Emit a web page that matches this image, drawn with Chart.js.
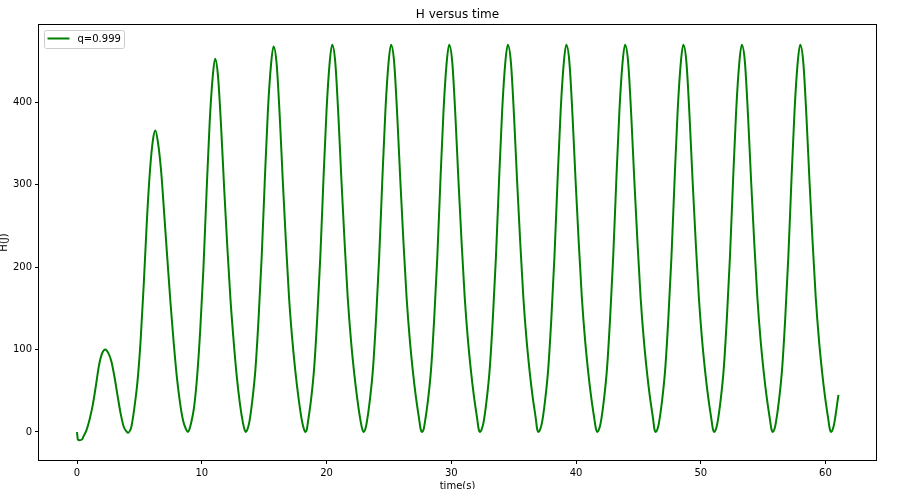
<!DOCTYPE html>
<html lang="en">
<head>
  <meta charset="UTF-8" />
  <title>H versus time</title>
  <script src="https://cdn.jsdelivr.net/npm/chart.js"></script>
  <style>
    html, body { margin: 0; padding: 0; background: #fff; }
    canvas { display: block; }
  </style>
</head>
<body>
  <canvas id="hChart" width="904" height="489"></canvas>

  <script>
    const chartTitle = "H versus time";
    const seriesLabel = "q=0.999";
    const xTicks = [0, 10, 20, 30, 40, 50, 60];
    const yTicks = [0, 100, 200, 300, 400];

    // time (s)
    const timeS = [
      0, 0.06, 0.2, 0.4, 0.5, 0.75, 1.0, 1.25, 1.5, 1.75, 2.0, 2.27, 2.5, 2.75, 3.0, 3.25, 3.5, 3.75, 3.95, 4.1,
      4.25, 4.35, 4.6, 4.85, 5.1, 5.35, 5.6, 5.85, 6.1, 6.28,
      6.5, 6.75, 7.0, 7.25, 7.5, 7.75, 8.0, 8.25, 8.5, 8.72, 8.88,
      9.0, 9.13, 9.38, 9.63, 9.88, 10.13, 10.38, 10.63, 10.88, 11.07,
      11.3, 11.55, 11.8, 12.05, 12.3, 12.55, 12.8, 13.05, 13.3, 13.41, 13.53,
      13.65, 13.80, 14.05, 14.30, 14.55, 14.80, 15.05, 15.30, 15.55, 15.75, 16.00, 16.25, 16.50, 16.75, 17.00, 17.25, 17.50, 17.75, 18.00, 18.18, 18.30,
      18.42, 18.50, 18.75, 19.00, 19.25, 19.50, 19.75, 20.00, 20.25, 20.45, 20.70, 20.95, 21.20, 21.45, 21.70, 21.95, 22.20, 22.45, 22.70, 22.86, 22.98,
      23.10, 23.22, 23.47, 23.72, 23.97, 24.22, 24.47, 24.72, 24.97, 25.17, 25.42, 25.67, 25.92, 26.17, 26.42, 26.67, 26.92, 27.17, 27.42, 27.54, 27.66,
      27.78, 27.88, 28.13, 28.38, 28.63, 28.88, 29.13, 29.38, 29.63, 29.83, 30.08, 30.33, 30.58, 30.83, 31.08, 31.33, 31.58, 31.83, 32.08, 32.19, 32.31,
      32.43, 32.58, 32.83, 33.08, 33.33, 33.58, 33.83, 34.08, 34.33, 34.53, 34.78, 35.03, 35.28, 35.53, 35.78, 36.03, 36.28, 36.53, 36.78, 36.88, 37.00,
      37.12, 37.27, 37.52, 37.77, 38.02, 38.27, 38.52, 38.77, 39.02, 39.22, 39.47, 39.72, 39.97, 40.22, 40.47, 40.72, 40.97, 41.22, 41.47, 41.60, 41.72,
      41.84, 41.98, 42.23, 42.48, 42.73, 42.98, 43.23, 43.48, 43.73, 43.93, 44.18, 44.43, 44.68, 44.93, 45.18, 45.43, 45.68, 45.93, 46.18, 46.28, 46.40,
      46.52, 46.65, 46.90, 47.15, 47.40, 47.65, 47.90, 48.15, 48.40, 48.60, 48.85, 49.10, 49.35, 49.60, 49.85, 50.10, 50.35, 50.60, 50.85, 50.97, 51.09,
      51.21, 51.34, 51.59, 51.84, 52.09, 52.34, 52.59, 52.84, 53.09, 53.29, 53.54, 53.79, 54.04, 54.29, 54.54, 54.79, 55.04, 55.29, 55.54, 55.66, 55.78,
      55.90, 56.02, 56.27, 56.52, 56.77, 57.02, 57.27, 57.52, 57.77, 57.97, 58.22, 58.47, 58.72, 58.97, 59.22, 59.47, 59.72, 59.97, 60.22, 60.34, 60.46,
      60.58, 60.71, 61.04
    ];

    // H (J), same order as timeS
    const energyJ = [
      0, -9, -10, -9, -6, 2, 15, 32, 55, 80, 95, 100, 96, 86, 67, 44, 22, 6, 1, -1,
      2, 6, 30, 62, 112, 180, 257, 318, 356, 366,
      350, 315, 262, 208, 155, 108, 67, 36, 14, 4, 0,
      3, 10, 30, 68, 125, 198, 290, 375, 432, 453,
      432, 370, 294, 224, 161, 111, 68, 35, 11, 4, 0,
      3, 11, 38, 76, 137, 212, 305, 390, 446, 468, 447, 383, 303, 229, 162, 113, 74, 42, 16, 4, 0,
      3, 11, 38, 76, 137, 212, 305, 390, 448, 470, 449, 384, 304, 230, 163, 113, 74, 42, 16, 4, 0,
      3, 11, 38, 76, 137, 212, 305, 390, 448, 470, 449, 384, 304, 230, 163, 113, 74, 42, 16, 4, 0,
      3, 11, 38, 76, 137, 212, 305, 390, 448, 470, 449, 384, 304, 230, 163, 113, 74, 42, 16, 4, 0,
      3, 11, 38, 76, 137, 212, 305, 390, 448, 470, 449, 384, 304, 230, 163, 113, 74, 42, 16, 4, 0,
      3, 11, 38, 76, 137, 212, 305, 390, 448, 470, 449, 384, 304, 230, 163, 113, 74, 42, 16, 4, 0,
      3, 11, 38, 76, 137, 212, 305, 390, 448, 470, 449, 384, 304, 230, 163, 113, 74, 42, 16, 4, 0,
      3, 11, 38, 76, 137, 212, 305, 390, 448, 470, 449, 384, 304, 230, 163, 113, 74, 42, 16, 4, 0,
      3, 11, 38, 76, 137, 212, 305, 390, 448, 470, 449, 384, 304, 230, 163, 113, 74, 42, 16, 4, 0,
      3, 11, 38, 76, 137, 212, 305, 390, 448, 470, 449, 384, 304, 230, 163, 113, 74, 42, 16, 4, 0,
      3, 11, 45
    ];

    const points = timeS.map((t, i) => ({ x: t, y: energyJ[i] }));
    const font = { family: "'DejaVu Sans', sans-serif", size: 10 };

    // frame, title and legend box drawn matplotlib-style
    const mplDecor = {
      id: "mplDecor",
      afterDraw(chart) {
        const { ctx, chartArea: a } = chart;
        ctx.save();
        ctx.strokeStyle = "#000";
        ctx.lineWidth = 1;
        ctx.strokeRect(a.left - 0.5, a.top - 0.5, a.right - a.left + 1, a.bottom - a.top + 1);

        ctx.fillStyle = "#000";
        ctx.font = "12px 'DejaVu Sans', sans-serif";
        ctx.textAlign = "center";
        ctx.textBaseline = "middle";
        ctx.fillText(chartTitle, (a.left + a.right) / 2, 15);

        // legend
        const lx = a.left + 5.5, ly = a.top + 5.5, lw = 80, lh = 18;
        ctx.beginPath();
        ctx.roundRect(lx, ly, lw, lh, 2);
        ctx.fillStyle = "rgba(255,255,255,0.8)";
        ctx.fill();
        ctx.strokeStyle = "#cccccc";
        ctx.stroke();
        ctx.beginPath();
        ctx.moveTo(lx + 3, ly + 8);
        ctx.lineTo(lx + 25, ly + 8);
        ctx.strokeStyle = "green";
        ctx.lineWidth = 2;
        ctx.stroke();
        ctx.fillStyle = "#000";
        ctx.font = "10px 'DejaVu Sans', sans-serif";
        ctx.textAlign = "left";
        ctx.fillText(seriesLabel, lx + 33, ly + 8.5);
        ctx.restore();
      }
    };

    new Chart(document.getElementById("hChart"), {
      type: "line",
      data: {
        datasets: [{
          label: seriesLabel,
          data: points,
          borderColor: "green",
          borderWidth: 2,
          pointRadius: 0,
          cubicInterpolationMode: "monotone",
          fill: false
        }]
      },
      options: {
        responsive: false,
        animation: false,
        devicePixelRatio: 1,
        layout: { padding: { left: 0, right: 28, top: 25, bottom: 0 } },
        plugins: {
          legend: { display: false },
          title: { display: false },
          tooltip: { enabled: false }
        },
        scales: {
          x: {
            type: "linear",
            min: -3.05,
            max: 64.05,
            afterBuildTicks: s => { s.ticks = xTicks.map(v => ({ value: v })); },
            afterFit: s => { s.height = 29; },
            grid: { drawOnChartArea: false, tickLength: 4, color: "#000" },
            border: { display: false },
            ticks: { font: font, color: "#000", padding: 3, maxRotation: 0 },
            title: { display: true, text: "time(s)", font: font, color: "#000", padding: { top: 0, bottom: -3 } }
          },
          y: {
            type: "linear",
            min: -34,
            max: 494,
            afterBuildTicks: s => { s.ticks = yTicks.map(v => ({ value: v })); },
            afterFit: s => { s.width = 39; },
            grid: { drawOnChartArea: false, tickLength: 4, color: "#000" },
            border: { display: false },
            ticks: { font: font, color: "#000", padding: 3 },
            title: { display: true, text: "H(J)", font: font, color: "#000", padding: { top: -2, bottom: 0 } }
          }
        }
      },
      plugins: [mplDecor]
    });
  </script>
</body>
</html>
